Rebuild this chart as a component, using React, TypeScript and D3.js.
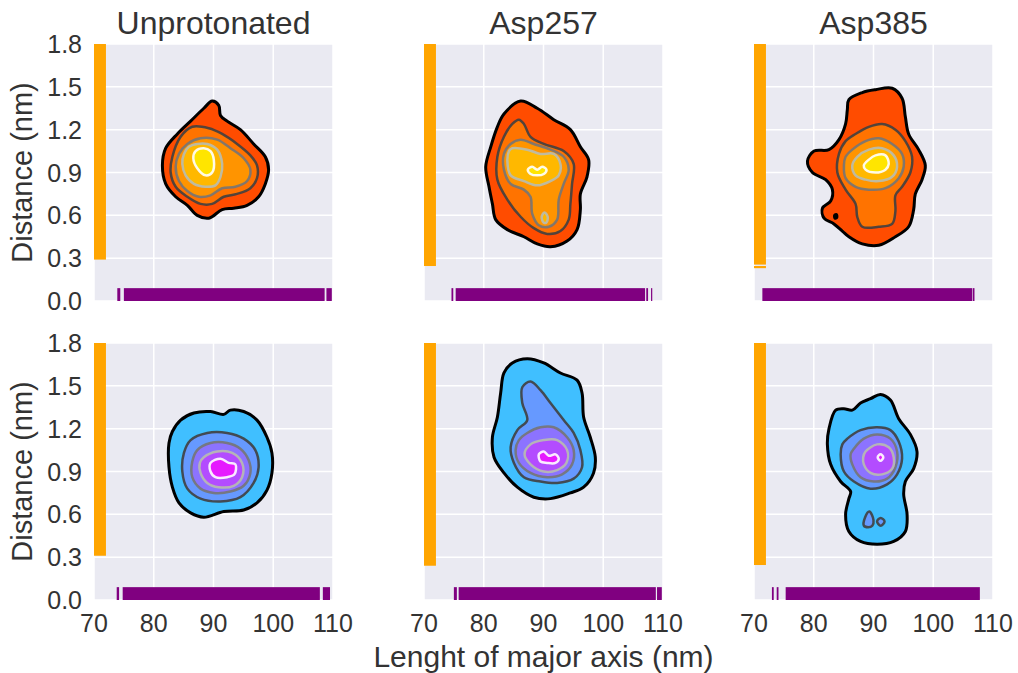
import React from 'react';
import * as d3 from 'd3';

type Pt = [number, number];

const titles = ['Unprotonated', 'Asp257', 'Asp385'];
const xTicks = [70, 80, 90, 100, 110];
const yTicks = [0.0, 0.3, 0.6, 0.9, 1.2, 1.5, 1.8];

// contour rings per panel: levels 1..5 (outer -> inner), each level a list of rings [length, distance]
const unprotonatedTop: Pt[][][] = [
  [[[89.78, 1.40], [90.88, 1.37], [91.17, 1.30], [92.28, 1.26], [94.5, 1.2], [96.72, 1.1], [98.67, 1.01], [99.22, 0.92], [98.67, 0.82], [97.55, 0.73], [95.62, 0.67], [93.38, 0.65], [91.45, 0.64], [89.22, 0.58], [87.28, 0.6], [85.62, 0.67], [83.67, 0.73], [82.0, 0.82], [81.45, 0.95], [82.0, 1.07], [83.95, 1.17], [86.17, 1.26], [88.38, 1.35]]],
  [[[86.45, 1.22], [89.22, 1.21], [91.45, 1.17], [93.95, 1.1], [96.17, 1.02], [97.28, 0.95], [97.28, 0.86], [96.17, 0.79], [93.95, 0.75], [91.72, 0.73], [89.78, 0.68], [87.83, 0.68], [85.62, 0.73], [83.67, 0.8], [82.83, 0.9], [83.12, 1.01], [84.5, 1.15]]],
  [[[85.62, 1.1], [87.83, 1.14], [90.62, 1.13], [92.83, 1.07], [95.05, 1.0], [96.17, 0.92], [95.62, 0.84], [93.67, 0.8], [91.45, 0.79], [89.5, 0.74], [87.55, 0.73], [85.62, 0.77], [84.22, 0.84], [83.67, 0.94], [84.22, 1.03]]],
  [[[85.88, 1.08], [87.28, 1.1], [88.95, 1.1], [90.62, 1.06], [91.45, 0.96], [91.17, 0.87], [90.33, 0.81], [88.67, 0.8], [86.72, 0.82], [85.33, 0.88], [84.78, 0.96], [85.05, 1.03]]],
  [[[87.0, 1.05], [88.38, 1.07], [89.5, 1.05], [90.05, 0.99], [89.78, 0.9], [88.67, 0.88], [87.28, 0.93], [86.62, 1.0]]],
];

const asp257Top: Pt[][][] = [
  [[[86.17, 1.4], [88.95, 1.35], [91.72, 1.27], [94.5, 1.2], [96.17, 1.08], [97.55, 0.99], [97.28, 0.87], [96.17, 0.75], [96.17, 0.64], [95.62, 0.5], [93.95, 0.42], [91.17, 0.38], [88.95, 0.4], [86.72, 0.45], [83.95, 0.5], [82.0, 0.57], [81.45, 0.68], [80.88, 0.8], [80.33, 0.94], [81.17, 1.08], [82.28, 1.22], [83.38, 1.31]]],
  [[[85.88, 1.27], [86.72, 1.24], [87.83, 1.15], [90.05, 1.1], [93.38, 1.05], [95.05, 0.96], [94.78, 0.82], [94.5, 0.68], [94.22, 0.57], [92.83, 0.49], [90.62, 0.47], [88.38, 0.51], [86.17, 0.59], [83.95, 0.71], [82.28, 0.85], [82.28, 1.01], [83.38, 1.15], [84.78, 1.24]]],
  [[[84.5, 1.1], [86.17, 1.13], [88.38, 1.1], [91.17, 1.06], [93.38, 1.01], [94.22, 0.92], [93.38, 0.82], [92.55, 0.71], [92.28, 0.57], [90.88, 0.52], [89.22, 0.53], [88.12, 0.61], [87.83, 0.73], [86.72, 0.78], [84.5, 0.82], [83.38, 0.92], [83.38, 1.03]]],
  [
    [[84.78, 1.07], [87.28, 1.06], [89.5, 1.03], [91.72, 1.03], [92.83, 0.96], [92.55, 0.88], [91.17, 0.84], [88.95, 0.81], [86.72, 0.84], [84.5, 0.88], [83.95, 0.98], [84.22, 1.05]],
    [[90.17, 0.62], [90.7, 0.59], [90.5, 0.55], [90.0, 0.55], [89.7, 0.59]],
  ],
  [[[87.38, 0.92], [88.12, 0.94], [88.95, 0.92], [89.78, 0.94], [90.5, 0.92], [90.05, 0.89], [88.95, 0.88], [87.83, 0.89]]],
];

const asp385Top: Pt[][][] = [
  [
    [[85.88, 1.41], [88.12, 1.46], [90.33, 1.48], [93.12, 1.49], [94.78, 1.42], [95.33, 1.29], [95.88, 1.17], [97.55, 1.06], [98.67, 0.95], [98.12, 0.85], [97.0, 0.75], [96.72, 0.64], [95.88, 0.52], [93.67, 0.45], [90.88, 0.39], [88.12, 0.4], [85.88, 0.45], [84.78, 0.49], [83.38, 0.54], [81.72, 0.58], [81.45, 0.65], [82.83, 0.7], [83.12, 0.78], [82.0, 0.85], [79.78, 0.9], [78.95, 0.98], [80.05, 1.05], [82.55, 1.06], [84.22, 1.13], [85.33, 1.24], [85.62, 1.34]],
    [[83.5, 0.6], [83.8, 0.605], [83.85, 0.585], [83.55, 0.58]],
  ],
  [[[87.0, 1.17], [89.22, 1.22], [91.45, 1.24], [93.67, 1.2], [95.33, 1.12], [96.45, 1.01], [96.17, 0.9], [94.78, 0.8], [93.67, 0.74], [93.67, 0.63], [93.12, 0.54], [90.88, 0.52], [88.12, 0.52], [87.28, 0.59], [87.0, 0.68], [85.33, 0.78], [83.95, 0.9], [84.22, 1.03], [85.33, 1.12]]],
  [[[86.45, 1.06], [88.67, 1.12], [90.88, 1.14], [93.12, 1.1], [94.78, 1.03], [95.05, 0.94], [94.22, 0.86], [92.0, 0.79], [89.22, 0.78], [87.0, 0.8], [85.33, 0.86], [85.05, 0.95], [85.33, 1.01]]],
  [[[87.28, 1.01], [89.22, 1.06], [91.45, 1.07], [93.38, 1.02], [93.95, 0.94], [93.12, 0.87], [90.88, 0.84], [88.67, 0.85], [87.0, 0.88], [86.45, 0.95]]],
  [[[89.22, 0.99], [90.33, 1.02], [92.0, 1.02], [92.55, 0.96], [92.0, 0.92], [90.33, 0.9], [88.67, 0.92], [88.38, 0.95]]],
];

const unprotonatedBottom: Pt[][][] = [
  [[[84.5, 1.26], [86.72, 1.31], [89.5, 1.32], [91.72, 1.3], [92.83, 1.33], [95.05, 1.32], [97.28, 1.26], [98.95, 1.14], [99.78, 1.03], [99.78, 0.89], [98.95, 0.77], [97.28, 0.68], [95.05, 0.63], [91.72, 0.62], [88.38, 0.58], [86.17, 0.61], [84.22, 0.68], [83.12, 0.79], [82.55, 0.93], [82.55, 1.1], [83.12, 1.18]]],
  [[[86.17, 1.12], [88.95, 1.17], [92.28, 1.17], [95.05, 1.13], [97.0, 1.05], [97.55, 0.93], [96.72, 0.82], [94.5, 0.72], [91.17, 0.69], [87.83, 0.71], [85.62, 0.78], [84.78, 0.9], [85.05, 1.03]]],
  [[[87.28, 1.05], [89.5, 1.1], [92.28, 1.1], [94.5, 1.06], [95.88, 0.98], [96.17, 0.89], [95.05, 0.8], [92.83, 0.76], [90.05, 0.75], [87.83, 0.78], [86.45, 0.86], [86.45, 0.97]]],
  [[[88.38, 1.0], [90.62, 1.04], [93.12, 1.03], [94.78, 0.96], [94.78, 0.86], [93.38, 0.8], [90.88, 0.79], [88.95, 0.82], [87.83, 0.89], [87.72, 0.96]]],
  [[[89.5, 0.96], [91.17, 0.99], [92.55, 0.96], [93.67, 0.95], [93.5, 0.88], [92.28, 0.86], [90.33, 0.86], [89.5, 0.9]]],
];

const asp257Bottom: Pt[][][] = [
  [[[84.78, 1.66], [87.28, 1.69], [90.05, 1.66], [92.83, 1.59], [95.62, 1.54], [96.45, 1.45], [96.72, 1.28], [97.83, 1.14], [98.67, 1.0], [98.38, 0.89], [96.72, 0.79], [94.5, 0.75], [91.17, 0.71], [88.38, 0.72], [85.62, 0.79], [83.38, 0.89], [81.72, 1.0], [81.45, 1.14], [82.28, 1.28], [82.83, 1.45], [83.38, 1.59]]],
  [[[86.45, 1.49], [87.83, 1.53], [89.5, 1.47], [91.17, 1.38], [93.38, 1.26], [95.05, 1.17], [96.17, 1.05], [96.45, 0.93], [95.05, 0.85], [92.28, 0.82], [89.5, 0.83], [86.72, 0.86], [85.05, 0.96], [84.5, 1.07], [85.62, 1.19], [87.28, 1.26], [86.45, 1.38]]],
  [[[87.28, 1.17], [89.5, 1.21], [91.72, 1.21], [93.95, 1.14], [95.05, 1.05], [94.78, 0.95], [93.12, 0.88], [90.62, 0.86], [87.83, 0.89], [85.88, 0.96], [85.33, 1.05], [85.88, 1.12]]],
  [[[87.83, 1.09], [90.05, 1.12], [92.28, 1.12], [93.95, 1.05], [93.83, 0.96], [92.28, 0.91], [90.05, 0.9], [87.83, 0.95], [86.83, 1.02]]],
  [[[89.22, 1.02], [90.05, 1.04], [90.88, 1.01], [92.0, 1.02], [92.55, 0.99], [92.0, 0.96], [90.62, 0.96], [89.5, 0.97]]],
];

const asp385Bottom: Pt[][][] = [
  [[[83.67, 1.33], [85.05, 1.34], [86.45, 1.33], [87.83, 1.38], [89.5, 1.41], [91.17, 1.44], [92.83, 1.4], [94.22, 1.27], [96.17, 1.16], [97.28, 1.04], [96.72, 0.92], [95.33, 0.83], [95.05, 0.74], [95.62, 0.6], [95.33, 0.48], [93.38, 0.41], [90.62, 0.39], [87.83, 0.41], [85.88, 0.48], [85.33, 0.6], [85.88, 0.71], [86.17, 0.76], [84.5, 0.83], [82.83, 0.95], [82.28, 1.09], [82.55, 1.2]]],
  [
    [[85.62, 1.13], [87.83, 1.19], [90.62, 1.21], [92.83, 1.19], [94.22, 1.11], [94.78, 0.99], [93.95, 0.88], [92.28, 0.81], [89.5, 0.78], [86.72, 0.83], [85.05, 0.9], [84.5, 1.02], [84.78, 1.09]],
    [[88.4, 0.52], [88.6, 0.58], [89.3, 0.62], [90.0, 0.56], [89.8, 0.52], [89.1, 0.51]],
    [[90.6, 0.55], [91.2, 0.575], [91.85, 0.55], [91.2, 0.52]],
  ],
  [[[86.72, 1.06], [88.38, 1.13], [90.62, 1.16], [92.83, 1.13], [93.95, 1.04], [93.67, 0.93], [92.28, 0.85], [90.05, 0.83], [87.83, 0.86], [86.45, 0.95], [86.17, 1.02]]],
  [[[88.67, 1.04], [90.62, 1.09], [92.55, 1.07], [93.38, 1.0], [93.12, 0.92], [91.45, 0.88], [89.5, 0.89], [88.38, 0.95], [88.28, 1.0]]],
  [[[90.7, 1.0], [91.17, 1.02], [91.64, 1.0], [91.17, 0.975]]],
];

const panelsTop = [unprotonatedTop, asp257Top, asp385Top];
const panelsBottom = [unprotonatedBottom, asp257Bottom, asp385Bottom];

// rug extents, [from, to]
const lengthRugTop: Pt[][] = [
  [[73.9, 74.4], [75.0, 108.6], [108.9, 109.8]],
  [[74.6, 74.9], [75.3, 107.0], [107.2, 107.5], [108.0, 108.2]],
  [[71.4, 106.5], [106.6, 106.9]],
];
const lengthRugBottom: Pt[][] = [
  [[73.8, 74.2], [74.8, 107.8], [108.3, 109.5]],
  [[75.0, 75.5], [75.8, 108.8], [109.0, 109.8]],
  [[73.0, 73.3], [73.8, 74.1], [75.3, 107.8]],
];
const distRugTop: Pt[][] = [
  [[0.29, 1.8]],
  [[0.245, 1.8]],
  [[0.23, 0.245], [0.255, 1.8]],
];
const distRugBottom: Pt[][] = [
  [[0.31, 1.8]],
  [[0.24, 1.8]],
  [[0.245, 1.8]],
];

const autumnFill = ['#ff4c00', '#ff7300', '#ff9400', '#ffb800', '#ffe500'];
const coolFill = ['#40bfff', '#6699ff', '#8c73ff', '#b34cff', '#e61aff'];
const levelLine = ['#000000', '#404040', '#767676', '#b8bcb0', '#ffffff'];

const panelX = [94, 424, 754];
const panelW = 239;
const rowY = [44, 343];
const panelH = 257;
const font = 'Liberation Sans, Arial, Helvetica, sans-serif';
const textColor = '#333333';

function Panel({ col, row, levels, lenRug, distRug, fills }: {
  col: number; row: number; levels: Pt[][][]; lenRug: Pt[]; distRug: Pt[]; fills: string[];
}) {
  const x0 = panelX[col];
  const y0 = rowY[row];
  const x = d3.scaleLinear().domain([70, 110]).range([x0, x0 + panelW]);
  const y = d3.scaleLinear().domain([0, 1.8]).range([y0 + panelH, y0]);
  const line = d3.line<Pt>().x(d => x(d[0])).y(d => y(d[1])).curve(d3.curveCatmullRomClosed.alpha(0.5));
  const rugW = panelW * 0.05;
  const rugH = panelH * 0.05;

  return (
    <g>
      <rect x={x0} y={y0} width={panelW} height={panelH} fill="#eaeaf2" />
      <g stroke="#ffffff" strokeWidth={1.5}>
        {xTicks.map(t => <line key={'gx' + t} x1={x(t)} x2={x(t)} y1={y0} y2={y0 + panelH} />)}
        {yTicks.map(t => <line key={'gy' + t} x1={x0} x2={x0 + panelW} y1={y(t)} y2={y(t)} />)}
      </g>
      {levels.map((rings, i) => (
        <g key={'lv' + i}>
          {rings.map((ring, j) => (
            <path key={j} d={line(ring) || ''} fill={fills[i]} stroke={levelLine[i]}
              strokeWidth={i === 0 ? 3 : 2.5} strokeOpacity={i === 0 ? 1 : 0.9} strokeLinejoin="round" />
          ))}
        </g>
      ))}
      {distRug.map((r, i) => (
        <rect key={'dr' + i} x={x0} width={rugW} y={y(r[1])} height={Math.max(1.2, y(r[0]) - y(r[1]))} fill="#ffa500" />
      ))}
      {lenRug.map((r, i) => (
        <rect key={'lr' + i} x={x(r[0])} width={Math.max(1.2, x(r[1]) - x(r[0]))} y={y0 + panelH - rugH} height={rugH} fill="#800080" />
      ))}
      {row === 0 && (
        <text x={x0 + panelW / 2} y={34} textAnchor="middle" fontSize={32} fill={textColor}>{titles[col]}</text>
      )}
      {col === 0 && yTicks.map(t => (
        <text key={'ty' + t} x={x0 - 12} y={y(t)} dy="0.36em" textAnchor="end" fontSize={25} fill={textColor}>{t.toFixed(1)}</text>
      ))}
      {row === 1 && xTicks.map(t => (
        <text key={'tx' + t} x={x(t)} y={y0 + panelH + 32} textAnchor="middle" fontSize={25} fill={textColor}>{t}</text>
      ))}
      {col === 0 && (
        <text transform={`translate(32,${y0 + panelH / 2}) rotate(-90)`} textAnchor="middle" fontSize={29} fill={textColor}>Distance (nm)</text>
      )}
    </g>
  );
}

export default function App() {
  return (
    <div style={{ position: 'absolute', left: 0, top: 0, background: '#ffffff' }}>
      <svg width={1018} height={673} style={{ display: 'block', fontFamily: font }}>
        <rect width={1018} height={673} fill="#ffffff" />
        {panelsTop.map((lv, c) => (
          <Panel key={'t' + c} col={c} row={0} levels={lv} lenRug={lengthRugTop[c]} distRug={distRugTop[c]} fills={autumnFill} />
        ))}
        {panelsBottom.map((lv, c) => (
          <Panel key={'b' + c} col={c} row={1} levels={lv} lenRug={lengthRugBottom[c]} distRug={distRugBottom[c]} fills={coolFill} />
        ))}
        <text x={panelX[1] + panelW / 2} y={667} textAnchor="middle" fontSize={30} fill={textColor}>Lenght of major axis (nm)</text>
      </svg>
    </div>
  );
}
